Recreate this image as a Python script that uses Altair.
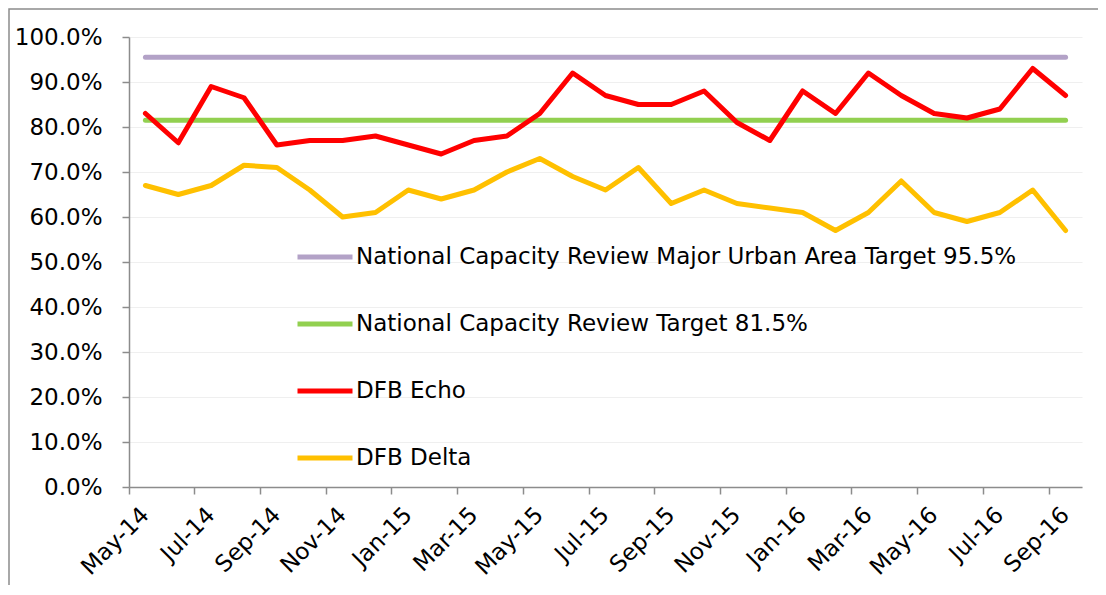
import altair as alt
import pandas as pd

months = ["May-14", "Jun-14", "Jul-14", "Aug-14", "Sep-14", "Oct-14", "Nov-14", "Dec-14",
          "Jan-15", "Feb-15", "Mar-15", "Apr-15", "May-15", "Jun-15", "Jul-15", "Aug-15",
          "Sep-15", "Oct-15", "Nov-15", "Dec-15", "Jan-16", "Feb-16", "Mar-16", "Apr-16",
          "May-16", "Jun-16", "Jul-16", "Aug-16", "Sep-16"]

dfb_echo = [83, 76.5, 89, 86.5, 76, 77, 77, 78, 76, 74, 77, 78, 83, 92, 87, 85,
            85, 88, 81, 77, 88, 83, 92, 87, 83, 82, 84, 93, 87]
dfb_delta = [67, 65, 67, 71.5, 71, 66, 60, 61, 66, 64, 66, 70, 73, 69, 66, 71,
             63, 66, 63, 62, 61, 57, 61, 68, 61, 59, 61, 66, 57]
urban_target = [95.5] * len(months)
national_target = [81.5] * len(months)

series_names = ["National Capacity Review Major Urban Area Target 95.5%",
                "National Capacity Review Target 81.5%",
                "DFB Echo",
                "DFB Delta"]
series_values = [urban_target, national_target, dfb_echo, dfb_delta]
series_colors = ["#b3a2c7", "#92d050", "#ff0000", "#ffc000"]

rows = []
for name, vals in zip(series_names, series_values):
    for m, v in zip(months, vals):
        rows.append({"month": m, "value": v / 100.0, "series": name})
df = pd.DataFrame(rows)

FONT = "DejaVu Sans"
FS = 23

lines = alt.Chart(df).mark_line(strokeWidth=5, strokeJoin="round", strokeCap="round").encode(
    x=alt.X("month:O", sort=months, bandPosition=0.5,
            scale=alt.Scale(type="band", paddingInner=0, paddingOuter=0),
            axis=alt.Axis(title=None, values=months[::2], bandPosition=0, labelAngle=-45,
                          labelAlign="right", labelBaseline="middle", labelPadding=17,
                          tickSize=7, tickColor="#8c8c8c", domainColor="#8c8c8c",
                          domainWidth=1.5, tickWidth=1.5, grid=False,
                          labelFont=FONT, labelFontSize=FS, labelColor="black")),
    y=alt.Y("value:Q", scale=alt.Scale(domain=[0, 1], nice=False),
            axis=alt.Axis(title=None, values=[i / 10 for i in range(11)], format=".1%",
                          tickSize=7, tickColor="#8c8c8c", domainColor="#8c8c8c",
                          domainWidth=1.5, tickWidth=1.5, labelPadding=20,
                          grid=True, gridColor="#efefef", gridWidth=1,
                          labelFont=FONT, labelFontSize=FS, labelColor="black")),
    color=alt.Color("series:N", sort=series_names,
                    scale=alt.Scale(domain=series_names, range=series_colors),
                    legend=alt.Legend(title=None, orient="none", legendX=166, legendY=190,
                                      symbolType="stroke", symbolSize=3025, symbolStrokeWidth=5,
                                      rowPadding=25, labelOffset=1,
                                      labelFont=FONT, labelFontSize=FS, labelColor="black",
                                      labelLimit=900)),
    order=alt.value(0),
)

border = alt.Chart(pd.DataFrame({"a": [0]})).mark_rect(
    fillOpacity=0, stroke="#8c8c8c", strokeWidth=1.5
).encode(
    x=alt.value(-120), x2=alt.value(1000), y=alt.value(-28), y2=alt.value(600)
)

chart = alt.layer(border, lines).properties(
    width=953, height=450,
    autosize=alt.AutoSizeParams(type="none"),
    padding={"left": 121, "top": 29, "right": 16, "bottom": 98},
).configure_view(stroke=None)

chart.save("out.html", embed_options={"renderer": "svg", "actions": False})
